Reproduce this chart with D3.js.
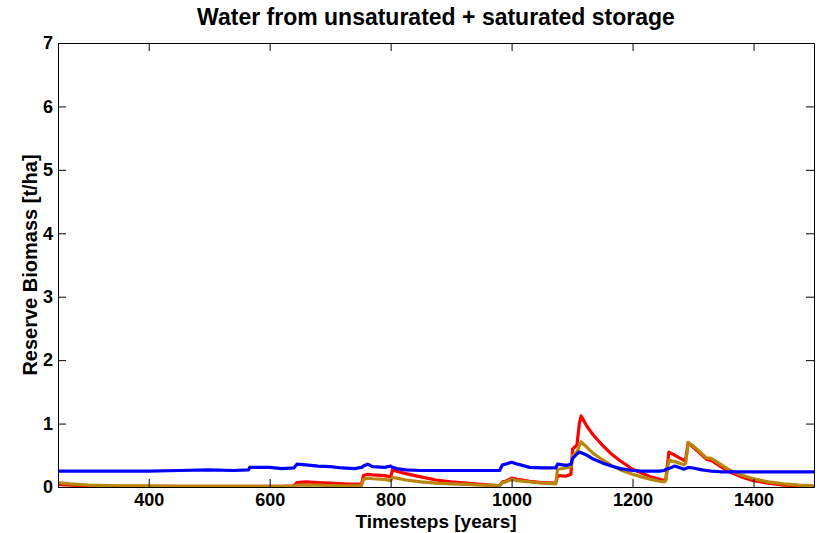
<!DOCTYPE html>
<html>
<head>
<meta charset="utf-8">
<script src="https://cdn.jsdelivr.net/npm/d3@7"></script>
<style>
  body { margin: 0; background: #fff; }
  svg text { font-family: "Liberation Sans", Arial, Helvetica, sans-serif; font-weight: bold; fill: #000; }
</style>
</head>
<body>
<div id="chart"></div>
<script>
var years = [250, 270, 300, 350, 400, 450, 500, 540, 565, 567, 600, 620, 640, 645, 660, 680, 700, 720, 740, 752,
  755, 762, 770, 790, 800, 803, 810, 825, 850, 875, 900, 925, 950, 980, 985, 990, 1000, 1010, 1030, 1050,
  1073, 1076, 1090, 1098, 1101, 1108, 1112, 1115, 1125, 1135, 1150, 1165, 1180, 1200, 1215, 1230, 1245, 1252, 1255, 1260,
  1270, 1285, 1288, 1292, 1300, 1315, 1322, 1330, 1345, 1360, 1380, 1400, 1425, 1450, 1475, 1500];

var red_biomass = [0.04, 0.03, 0.02, 0.01, 0.01, 0.01, 0.01, 0.01, 0.01, 0.01, 0.01, 0.01, 0.02, 0.07, 0.08, 0.07, 0.06, 0.05, 0.04, 0.05,
  0.18, 0.20, 0.19, 0.18, 0.16, 0.27, 0.25, 0.21, 0.16, 0.11, 0.08, 0.06, 0.04, 0.02, 0.08, 0.09, 0.14, 0.12, 0.09, 0.07,
  0.06, 0.18, 0.17, 0.20, 0.60, 0.66, 1.00, 1.12, 0.95, 0.82, 0.66, 0.52, 0.41, 0.28, 0.22, 0.16, 0.12, 0.10, 0.12, 0.55,
  0.50, 0.42, 0.45, 0.70, 0.63, 0.50, 0.44, 0.42, 0.33, 0.24, 0.16, 0.10, 0.06, 0.03, 0.02, 0.01];

var brown_biomass = [0.07, 0.05, 0.03, 0.02, 0.02, 0.01, 0.01, 0.01, 0.01, 0.01, 0.01, 0.01, 0.01, 0.03, 0.03, 0.03, 0.02, 0.02, 0.02, 0.02,
  0.12, 0.14, 0.13, 0.12, 0.10, 0.15, 0.14, 0.11, 0.08, 0.06, 0.05, 0.04, 0.03, 0.02, 0.07, 0.08, 0.12, 0.10, 0.08, 0.06,
  0.05, 0.28, 0.30, 0.32, 0.50, 0.55, 0.65, 0.71, 0.62, 0.53, 0.43, 0.34, 0.27, 0.20, 0.16, 0.12, 0.09, 0.08, 0.10, 0.42,
  0.40, 0.35, 0.38, 0.70, 0.65, 0.52, 0.46, 0.45, 0.36, 0.27, 0.19, 0.13, 0.08, 0.05, 0.03, 0.02];

var blue_biomass = [0.25, 0.25, 0.25, 0.25, 0.25, 0.26, 0.27, 0.26, 0.27, 0.31, 0.31, 0.29, 0.30, 0.36, 0.35, 0.33, 0.32, 0.30, 0.29, 0.31,
  0.33, 0.36, 0.32, 0.31, 0.33, 0.31, 0.29, 0.27, 0.26, 0.26, 0.26, 0.26, 0.26, 0.26, 0.35, 0.36, 0.39, 0.36, 0.31, 0.30,
  0.30, 0.36, 0.34, 0.36, 0.45, 0.52, 0.55, 0.54, 0.50, 0.44, 0.38, 0.33, 0.29, 0.26, 0.25, 0.25, 0.25, 0.26, 0.28, 0.29,
  0.33, 0.28, 0.29, 0.31, 0.30, 0.27, 0.26, 0.25, 0.24, 0.24, 0.24, 0.24, 0.24, 0.24, 0.24, 0.24];

var x_ticks = [400, 600, 800, 1000, 1200, 1400];
var y_ticks = [0, 1, 2, 3, 4, 5, 6, 7];

var width = 819,
    height = 533,
    margin = {top: 43, right: 5, bottom: 46, left: 58},
    chart_width = width - margin.left - margin.right,
    chart_height = height - margin.top - margin.bottom;

var svg = d3.select('#chart').append('svg')
    .attr('width', width)
    .attr('height', height);

var x = d3.scaleLinear().domain([250, 1500]).range([0, chart_width]);
var y = d3.scaleLinear().domain([0, 7]).range([chart_height, 0]);

var g = svg.append('g')
    .attr('transform', 'translate(' + margin.left + ',' + margin.top + ')');

// lines, drawn red first so brown and blue sit on top
var line = d3.line()
    .x(function(d) { return x(d[0]); })
    .y(function(d) { return y(d[1]); });

var series = [
  {values: red_biomass, colour: '#ff0000'},
  {values: brown_biomass, colour: '#b8860b'},
  {values: blue_biomass, colour: '#0000ff'}
];

g.append('clipPath').attr('id', 'plot_clip')
  .append('rect')
    .attr('width', chart_width)
    .attr('height', chart_height);

series.forEach(function(s) {
  g.append('path')
      .datum(years.map(function(yr, i) { return [yr, s.values[i]]; }))
      .attr('clip-path', 'url(#plot_clip)')
      .attr('fill', 'none')
      .attr('stroke', s.colour)
      .attr('stroke-width', 3.2)
      .attr('stroke-linejoin', 'round')
      .attr('d', line);
});

// axes, matlab style: ticks pointing inwards on all four sides
var tick_len = 8;
var fmt = d3.format('d');

var x_bottom = g.append('g')
    .attr('transform', 'translate(0,' + chart_height + ')')
    .call(d3.axisBottom(x).tickValues(x_ticks).tickSize(-tick_len).tickPadding(6).tickFormat(fmt).tickSizeOuter(0));
var x_top = g.append('g')
    .call(d3.axisTop(x).tickValues(x_ticks).tickSize(-tick_len).tickFormat('').tickSizeOuter(0));
var y_left = g.append('g')
    .call(d3.axisLeft(y).tickValues(y_ticks).tickSize(-tick_len).tickPadding(5).tickFormat(fmt).tickSizeOuter(0));
var y_right = g.append('g')
    .attr('transform', 'translate(' + chart_width + ',0)')
    .call(d3.axisRight(y).tickValues(y_ticks).tickSize(-tick_len).tickFormat('').tickSizeOuter(0));

[x_bottom, x_top, y_left, y_right].forEach(function(ax) {
  ax.select('.domain').attr('stroke', '#000');
  ax.selectAll('.tick line').attr('stroke', '#000');
  ax.selectAll('text')
      .style('font-size', '18px')
      .style('font-family', '"Liberation Sans", Arial, sans-serif')
      .style('font-weight', 'bold');
});

// titles
svg.append('text')
    .attr('x', margin.left + chart_width / 2)
    .attr('y', 25)
    .attr('text-anchor', 'middle')
    .style('font-size', '23px')
    .text('Water from unsaturated + saturated storage');

svg.append('text')
    .attr('x', margin.left + chart_width / 2)
    .attr('y', 528)
    .attr('text-anchor', 'middle')
    .style('font-size', '19px')
    .text('Timesteps [years]');

svg.append('text')
    .attr('transform', 'translate(37,' + (margin.top + chart_height / 2) + ') rotate(-90)')
    .attr('text-anchor', 'middle')
    .style('font-size', '20px')
    .text('Reserve Biomass [t/ha]');
</script>
</body>
</html>
